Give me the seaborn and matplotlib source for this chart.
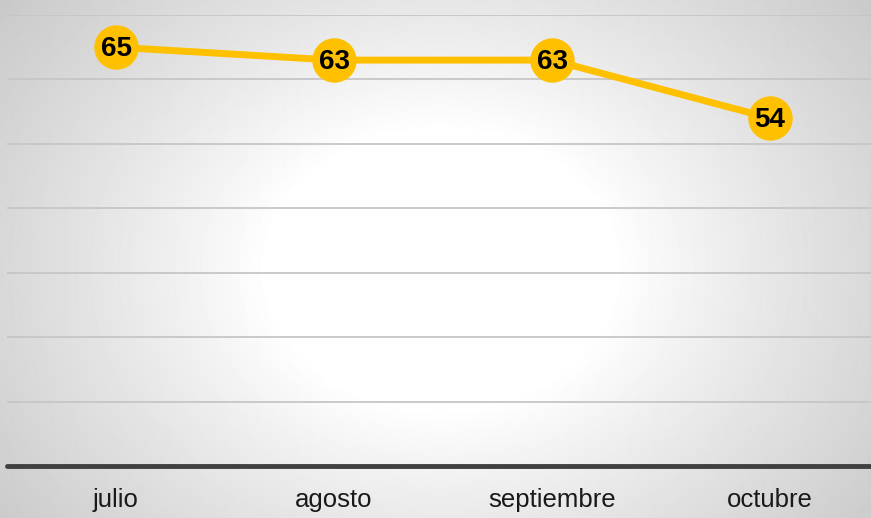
import matplotlib
matplotlib.use("Agg")
import matplotlib.pyplot as plt
import numpy as np
import pandas as pd
import seaborn as sns

# --- Data ---
months = ["julio", "agosto", "septiembre", "octubre"]
values = [65, 63, 63, 54]
y_ticks = [0, 10, 20, 30, 40, 50, 60, 70]

GOLD = "#FFC000"
GRID = "#c6c6c6"
BASE = "#404040"

sns.set_theme(style="white")
plt.rcParams["font.family"] = ["Liberation Sans", "DejaVu Sans"]

W, H = 871, 518
fig = plt.figure(figsize=(W / 100, H / 100), dpi=100)

# radial gradient background
bg = fig.add_axes([0, 0, 1, 1], zorder=0)
yy, xx = np.mgrid[0:H, 0:W]
r = np.sqrt(((xx - 440) / 500) ** 2 + ((yy - 270) / 400) ** 2)
shade = 1.0 - 0.21 * np.clip((r - 0.35) / 0.75, 0, 1) ** 0.9
bg.imshow(shade, cmap="gray", vmin=0, vmax=1, aspect="auto", interpolation="bilinear")
bg.axis("off")

ax = fig.add_axes([7 / W, 52 / H, 872 / W, 451 / H], zorder=1)
ax.patch.set_alpha(0)

df = pd.DataFrame({"mes": months, "valor": values})
x = np.arange(len(months))
sns.lineplot(x=x, y=df["valor"], ax=ax, color=GOLD, linewidth=5,
             marker="o", markersize=32, markeredgewidth=0, zorder=3)

for xi, v in zip(x, values):
    ax.text(xi, v - 0.3, str(v), ha="center", va="center", fontsize=20,
            fontweight="bold", color="black", zorder=4)

ax.set_xlim(-0.5, 3.5)
ax.set_ylim(0, 70)
ax.set_yticks(y_ticks)
ax.set_xticks(x)
ax.set_xticklabels(months, fontsize=18.5, color="#1a1a1a")
ax.tick_params(axis="x", length=0, pad=16)
ax.tick_params(axis="y", length=0, labelleft=False)
ax.set_xlabel("")
ax.set_ylabel("")
for yt in y_ticks[1:]:
    ax.axhline(yt, color=GRID, linewidth=1.3, zorder=1)
ax.axhline(0, color=BASE, linewidth=3.5, zorder=2, clip_on=False)
for s in ax.spines.values():
    s.set_visible(False)

fig.savefig("out.png", dpi=100)
